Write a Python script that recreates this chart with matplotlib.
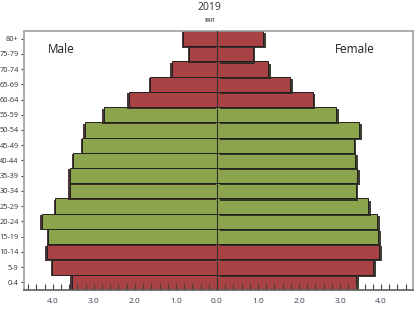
import numpy as np
import matplotlib
matplotlib.use("Agg")
import matplotlib.pyplot as plt
from matplotlib import patheffects as pe

ages = ["0-4", "5-9", "10-14", "15-19", "20-24", "25-29", "30-34", "35-39",
        "40-44", "45-49", "50-54", "55-59", "60-64", "65-69", "70-74", "75-79", "80+"]
male = [3.54, 4.02, 4.15, 4.12, 4.27, 3.95, 3.59, 3.59,
        3.51, 3.29, 3.22, 2.76, 2.15, 1.63, 1.10, 0.68, 0.83]
female = [3.39, 3.80, 3.96, 3.93, 3.90, 3.68, 3.38, 3.41,
          3.37, 3.33, 3.46, 2.90, 2.33, 1.79, 1.24, 0.87, 1.12]
# red for dependent ages, green for working ages
group = ["r", "r", "r", "g", "g", "g", "g", "g",
         "g", "g", "g", "g", "r", "r", "r", "r", "r"]
xticks = [-4, -3, -2, -1, 0, 1, 2, 3, 4]

red = "#A94244"
green = "#8CA44C"
cols = [red if g == "r" else green for g in group]

plt.rcParams['font.family'] = ['Open Sans', 'DejaVu Sans']

fig = plt.figure(figsize=(4.16, 3.10), dpi=100)
ax = fig.add_axes([0.058, 0.065, 0.935, 0.835])

y = np.arange(len(ages))
shadow_l = [pe.SimplePatchShadow(offset=(-1, -1), shadow_rgbFace="#3a2020", alpha=0.9), pe.Normal()]
shadow_r = [pe.SimplePatchShadow(offset=(2, -1.5), shadow_rgbFace="#2a2a20", alpha=0.9), pe.Normal()]

bl = ax.barh(y, -np.array(male), height=1.0, color=cols, edgecolor="#202020", linewidth=0.7)
br = ax.barh(y, female, height=1.0, color=cols, edgecolor="#202020", linewidth=0.7)
for p in bl:
    p.set_path_effects(shadow_l)
for p in br:
    p.set_path_effects(shadow_r)

ax.axvline(0, color="#303030", lw=0.8, zorder=3)

ax.set_xlim(-4.70, 4.78)
ax.set_ylim(-0.5, 16.5)
ax.set_yticks(y)
ax.set_yticklabels(ages, fontsize=5.3, color="#303030",
                   family=["Liberation Sans Narrow", "Open Sans", "DejaVu Sans"])
ax.set_xticks(xticks)
ax.set_xticklabels(["%.1f" % abs(v) for v in xticks], fontsize=6, color="#404050")
ax.set_xticks(np.arange(-4.6, 4.7, 0.2), minor=True)
ax.tick_params(axis="x", which="both", direction="in", length=4, width=0.8, color="#404040", pad=6)
ax.tick_params(axis="y", direction="out", length=2.5, width=0.8, color="#404040", pad=1.5)

for s in ax.spines.values():
    s.set_color("#a0a0a0")
    s.set_linewidth(1.2)
ax.spines["bottom"].set_color("#606060")

ax.text(0.06, 0.93, "Male", transform=ax.transAxes, fontsize=8.5, color="#202020", va="center")
ax.text(0.8, 0.93, "Female", transform=ax.transAxes, fontsize=8.5, color="#202020", va="center")

fig.text(0.503, 0.975, "2019", ha="center", va="center", fontsize=7.5, color="#303030")
fig.text(0.503, 0.935, "เพศ", ha="center", va="center", fontsize=4.5, color="#303030",
         family=["Noto Sans Thai", "DejaVu Sans"])

fig.savefig("out.png", dpi=100)
